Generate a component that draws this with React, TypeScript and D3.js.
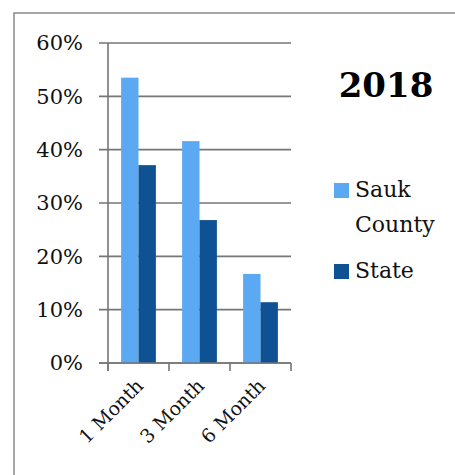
import React from "react";
import * as d3 from "d3";

const categories = ["1 Month", "3 Month", "6 Month"];
const seriesNames = ["Sauk County", "State"];
const saukValues = [0.535, 0.416, 0.167];
const stateValues = [0.371, 0.268, 0.114];
const yTicks = [0, 0.1, 0.2, 0.3, 0.4, 0.5, 0.6];
const title = "2018";

const colors = ["#5BA9F2", "#0E5294"];
const FONT = "'DejaVu Serif', 'Liberation Serif', serif";

export default function App() {
  const W = 455, H = 475;
  const y = d3.scaleLinear().domain([0, 0.6]).range([363, 43]);
  const x = d3.scaleBand<string>().domain(categories).range([108, 291]).padding(0);
  const bw = x.bandwidth();
  const x1 = d3.scaleBand<string>().domain(seriesNames).range([bw * 0.215, bw * 0.785]).padding(0);
  const values = [saukValues, stateValues];
  const grid = "#767676";
  const fmt = d3.format(".0%");

  return (
    <svg width={W} height={H} style={{ position: "absolute", left: 0, top: 0, background: "#fff" }}>
      <rect x={14} y={13} width={460} height={480} fill="#fff" stroke="#8a8a8a" strokeWidth={1.5} />
      {yTicks.map((t) => (
        <g key={t}>
          <line x1={99} x2={291} y1={y(t)} y2={y(t)} stroke={grid} strokeWidth={1.6} />
          <text x={83} y={y(t)} dy="0.35em" textAnchor="end" fontFamily={FONT} fontSize={21} fill="#111">
            {fmt(t)}
          </text>
        </g>
      ))}
      {categories.map((c, i) =>
        seriesNames.map((s, j) => (
          <rect
            key={c + s}
            x={(x(c) as number) + (x1(s) as number)}
            width={x1.bandwidth()}
            y={y(values[j][i])}
            height={y(0) - y(values[j][i])}
            fill={colors[j]}
          />
        ))
      )}
      <line x1={108} x2={108} y1={43} y2={371} stroke={grid} strokeWidth={1.6} />
      <line x1={99} x2={291} y1={y(0)} y2={y(0)} stroke={grid} strokeWidth={1.6} />
      {[...categories.map((c) => x(c) as number), 291].map((v, i) => (
        <line key={i} x1={v} x2={v} y1={363} y2={371} stroke={grid} strokeWidth={1.6} />
      ))}
      {categories.map((c) => {
        const cx = (x(c) as number) + bw / 2 + 6;
        const cy = 387;
        return (
          <text
            key={c}
            x={cx}
            y={cy}
            textAnchor="end"
            transform={`rotate(-45, ${cx}, ${cy})`}
            fontFamily={FONT}
            fontSize={19}
            fill="#111"
          >
            {c}
          </text>
        );
      })}
      <text x={386} y={97} textAnchor="middle" fontFamily={FONT} fontWeight="bold" fontSize={34} fill="#000">
        {title}
      </text>
      <rect x={334} y={183} width={15} height={15} fill={colors[0]} />
      <text x={355} y={197} fontFamily={FONT} fontSize={22} fill="#111">Sauk</text>
      <text x={355} y={232} fontFamily={FONT} fontSize={22} fill="#111">County</text>
      <rect x={334} y={264} width={15} height={15} fill={colors[1]} />
      <text x={355} y={278} fontFamily={FONT} fontSize={22} fill="#111">State</text>
    </svg>
  );
}
